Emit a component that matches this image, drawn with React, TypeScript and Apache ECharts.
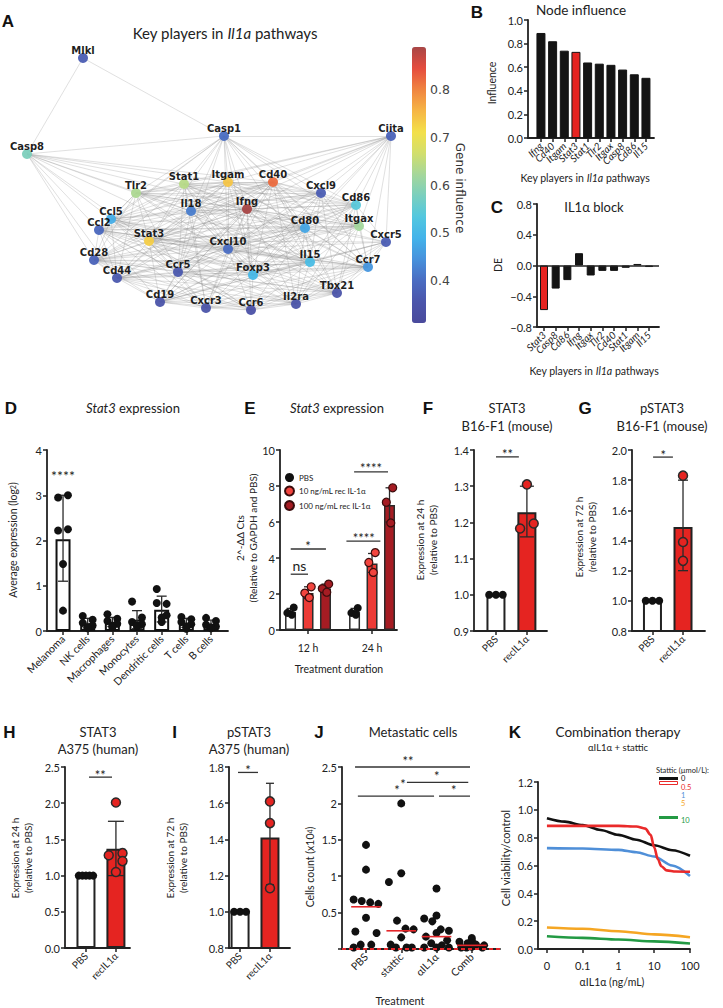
import React, { useEffect, useRef } from 'react';
import * as echarts from 'echarts';

const FONT = 'Lato, "Open Sans", "DejaVu Sans", sans-serif';
const NET_FONT = '"DejaVu Sans", sans-serif';
const LETTER_FONT = '"Liberation Sans", Arial, sans-serif';
const INK = '#222222';
const RED = '#e52421';

// ---------------- A: network ----------------
const NODES: [string, number, number, number][] = [
  ['Mlkl', 83, 58, 0.37],
  ['Casp1', 224, 136, 0.4],
  ['Ciita', 391, 136, 0.38],
  ['Casp8', 27, 154, 0.58],
  ['Tlr2', 136, 193, 0.63],
  ['Stat1', 184, 184, 0.64],
  ['Itgam', 228, 182, 0.74],
  ['Cd40', 273, 182, 0.82],
  ['Cxcl9', 321, 193, 0.37],
  ['Cd86', 356, 205, 0.54],
  ['Il18', 191, 211, 0.42],
  ['Ifng', 247, 209, 0.89],
  ['Ccl5', 111, 219, 0.48],
  ['Ccl2', 99, 230, 0.39],
  ['Cd80', 305, 228, 0.47],
  ['Itgax', 359, 226, 0.62],
  ['Stat3', 149, 241, 0.73],
  ['Cxcl10', 228, 249, 0.4],
  ['Cxcr5', 386, 242, 0.37],
  ['Cd28', 94, 260, 0.38],
  ['Il15', 310, 262, 0.51],
  ['Ccr7', 368, 267, 0.45],
  ['Ccr5', 178, 272, 0.36],
  ['Cd44', 117, 278, 0.36],
  ['Foxp3', 253, 275, 0.5],
  ['Tbx21', 337, 293, 0.35],
  ['Cd19', 160, 302, 0.35],
  ['Il2ra', 296, 304, 0.35],
  ['Cxcr3', 206, 308, 0.35],
  ['Ccr6', 251, 310, 0.34],
];

const EDGES = `
Mlkl: Casp8 Casp1
Casp1: Casp8 Ciita Tlr2 Stat1 Itgam Cd40 Cxcl9 Cd86 Il18 Ifng Cd80 Itgax Stat3 Cxcl10 Il15 Foxp3 Ccr5 Ccl5 Ccl2 Ccr7
Ciita: Cd40 Cxcl9 Cd86 Itgax Cxcr5 Ccr7 Il15 Cd80 Ifng Itgam Stat1 Tlr2 Foxp3 Cxcl10 Stat3 Il18
Casp8: Tlr2 Ccl5 Ccl2 Cd28 Stat3 Itgam Stat1 Cd44 Ifng Il18 Cxcl10 Cd40
Tlr2: Stat1 Itgam Cd40 Ifng Il18 Ccl5 Ccl2 Stat3 Cxcl10 Cd80 Cd86 Itgax Il15 Cd28 Cd44 Ccr5 Foxp3 Cxcl9
Stat1: Itgam Cd40 Cxcl9 Ifng Il18 Stat3 Cxcl10 Ccl2 Ccl5 Cd80 Cd86 Itgax Il15 Foxp3 Ccr5 Tbx21 Cxcr3 Cd28 Ccr7 Il2ra
Itgam: Cd40 Ifng Il18 Cd80 Cd86 Itgax Stat3 Cxcl10 Ccl2 Ccl5 Cd44 Cd19 Ccr7 Il15 Foxp3 Cd28 Cxcl9
Cd40: Ifng Cxcl9 Cd86 Cd80 Itgax Il18 Stat3 Cxcl10 Cd28 Il15 Foxp3 Ccr7 Cd44 Cd19 Il2ra Tbx21 Ccl2 Ccl5 Ccr5 Cxcr3
Cxcl9: Ifng Cd86 Cd80 Cxcl10 Cxcr3 Il15 Ccr7 Itgax Stat3 Foxp3 Tbx21 Ccr5 Il18 Ccl5
Cd86: Cd80 Itgax Ifng Cxcr5 Ccr7 Il15 Cd28 Foxp3 Stat3 Cxcl10 Il18 Cd44 Cd19 Tbx21 Il2ra
Il18: Ifng Stat3 Cxcl10 Ccl2 Ccl5 Cd80 Il15 Ccr5 Foxp3 Cd44 Cd28 Itgax Tbx21 Il2ra Cxcr3
Ifng: Cd80 Itgax Stat3 Cxcl10 Ccl5 Ccl2 Il15 Ccr5 Ccr7 Foxp3 Tbx21 Il2ra Cxcr3 Ccr6 Cd19 Cd44 Cd28 Cxcr5
Ccl5: Ccl2 Stat3 Cd28 Cd44 Ccr5 Cxcl10 Cd80 Il15 Foxp3 Cxcr3 Ccr6 Ccr7 Tbx21
Ccl2: Stat3 Cd28 Cd44 Ccr5 Cxcl10 Cd80 Il15 Foxp3 Cd19 Cxcr3 Ccr6 Ccr7 Il2ra Itgax
Cd80: Itgax Cxcr5 Il15 Ccr7 Cxcl10 Stat3 Foxp3 Tbx21 Il2ra Cd28 Cd44 Cd19 Ccr5 Ccr6
Itgax: Cxcr5 Ccr7 Il15 Foxp3 Stat3 Cxcl10 Tbx21 Cd19 Il2ra Cd44 Cd28
Stat3: Cxcl10 Cd28 Cd44 Ccr5 Foxp3 Il15 Cd19 Cxcr3 Ccr6 Il2ra Tbx21 Ccr7 Cxcr5
Cxcl10: Ccr5 Foxp3 Il15 Cxcr3 Ccr6 Il2ra Tbx21 Cd19 Cd44 Cd28 Ccr7 Cxcr5
Cxcr5: Ccr7 Il15 Tbx21 Foxp3 Cd19 Il2ra Ccr6
Cd28: Cd44 Ccr5 Cd19 Foxp3 Il15 Cxcr3 Ccr6 Il2ra Tbx21 Ccr7
Il15: Ccr7 Foxp3 Tbx21 Il2ra Ccr6 Cxcr3 Ccr5 Cd44 Cd19
Ccr7: Foxp3 Tbx21 Il2ra Ccr6 Cxcr3 Ccr5 Cd19 Cd44
Ccr5: Cd44 Foxp3 Cd19 Cxcr3 Ccr6 Il2ra Tbx21
Cd44: Cd19 Foxp3 Cxcr3 Ccr6 Il2ra Tbx21
Foxp3: Tbx21 Il2ra Ccr6 Cxcr3 Cd19
Tbx21: Il2ra Ccr6 Cxcr3 Cd19
Cd19: Cxcr3 Ccr6 Il2ra
Il2ra: Ccr6 Cxcr3
Cxcr3: Ccr6
`;

const CB_MIN = 0.31;
const CB_MAX = 0.89;
const CB_TICKS = [0.4, 0.5, 0.6, 0.7, 0.8];
const CMAP = ['#4a4a9c', '#4b55ab', '#4a6cc2', '#4791dc', '#43b3ea', '#52c7df', '#7acfbe', '#a5d79a', '#d2df6c', '#f3e04a', '#f6b545', '#f08440', '#e54c3e', '#a84646'];

// ---------------- B / C ----------------
const B_CATS = ['Ifng', 'Cd40', 'Itgam', 'Stat3', 'Stat1', 'Tlr2', 'Itgax', 'Casp8', 'Cd86', 'Il15'];
const B_VALS = [0.89, 0.82, 0.74, 0.73, 0.64, 0.63, 0.62, 0.58, 0.54, 0.51];
const C_CATS = ['Stat3', 'Casp8', 'Cd86', 'Ifng', 'Itgax', 'Tlr2', 'Cd40', 'Stat1', 'Itgam', 'Il15'];
const C_VALS = [-0.58, -0.3, -0.19, 0.16, -0.13, -0.07, -0.07, -0.03, 0.02, -0.02];
const HIGHLIGHT = 'Stat3';

// ---------------- D ----------------
const D_CATS = ['Melanoma', 'NK cells', 'Macrophages', 'Monocytes', 'Dendritic cells', 'T cells', 'B cells'];
const D_MEANS = [2.03, 0.17, 0.2, 0.25, 0.47, 0.18, 0.15];
const D_LO = [1.1, 0.07, 0.1, 0.05, 0.2, 0.08, 0.06];
const D_HI = [3.0, 0.28, 0.3, 0.45, 0.77, 0.28, 0.24];
const D_PTS = [
  [2.95, 3.0, 2.22, 2.25, 1.48, 0.45],
  [0.33, 0.25, 0.18, 0.12, 0.08, 0.06],
  [0.37, 0.27, 0.22, 0.16, 0.12, 0.08],
  [0.65, 0.3, 0.2, 0.15, 0.1, 0.12],
  [0.93, 0.6, 0.62, 0.35, 0.3, 0.2],
  [0.31, 0.26, 0.2, 0.15, 0.1, 0.05],
  [0.29, 0.22, 0.14, 0.1, 0.06, 0.08],
];
const D_STARS: [number, number, number, string, number][] = [[0, 0, 3.5, '****', 0]];

// ---------------- E ----------------
const E_GROUPS = ['12 h', '24 h'];
const E_SERIES = ['PBS', '10 ng/mL rec IL-1α', '100 ng/mL rec IL-1α'];
const E_MEANS = [[1.0, 1.0], [2.05, 3.7], [2.3, 6.95]];
const E_LO = [[0.82, 0.82], [1.75, 3.2], [2.1, 6.0]];
const E_HI = [[1.2, 1.2], [2.4, 4.25], [2.55, 7.9]];
const E_PTS = [
  [[1.25, 0.95, 0.85], [1.22, 0.95, 0.85]],
  [[2.4, 2.05, 1.8], [4.3, 3.75, 3.2]],
  [[2.55, 2.3, 2.1], [7.9, 7.1, 5.95]],
];
const E_BR: [number, number, number, string, number][] = [
  [-0.27, 0, 3.1, 'ns', -0.135],
  [-0.27, 0.28, 4.5, '*', 0],
  [0.6, 1.13, 4.94, '****', 0.87],
  [0.72, 1.25, 8.78, '****', 0.985],
];

// ---------------- F G H I ----------------
const FI_CATS = ['PBS', 'recIL1α'];
const F_MEANS = [1.0, 1.228];
const F_LO = [1.0, 1.16];
const F_HI = [1.0, 1.3];
const F_PTS = [[1, 1, 1], [1.305, 1.197, 1.183]];
const F_BR: [number, number, number, string, number][] = [[0, 0.74, 1.381, '**', 0.37]];

const G_MEANS = [1.0, 1.49];
const G_LO = [1.0, 1.2];
const G_HI = [1.0, 1.8];
const G_PTS = [[1, 1, 1], [1.83, 1.39, 1.265]];
const G_BR: [number, number, number, string, number][] = [[0.02, 0.67, 1.953, '*', 0.35]];

const H_MEANS = [1.0, 1.37];
const H_LO = [1.0, 1.0];
const H_HI = [1.0, 1.75];
const H_PTS = [[1, 1, 1, 1, 1], [2.01, 1.31, 1.28, 1.2, 1.05]];
const H_BR: [number, number, number, string, number][] = [[0.1, 0.87, 2.36, '**', 0.48]];

const I_MEANS = [1.0, 1.41];
const I_LO = [1.0, 1.15];
const I_HI = [1.0, 1.71];
const I_PTS = [[1, 1, 1], [1.61, 1.49, 1.13]];
const I_BR: [number, number, number, string, number][] = [[-0.07, 0.6, 1.77, '*', 0.27]];

// ---------------- J ----------------
const J_CATS = ['PBS', 'stattic', 'αIL1α', 'Comb'];
const J_PTS = [
  [1.43, 1.09, 0.68, 0.66, 0.64, 0.62, 0.43, 0.24, 0.22, 0.06, 0.06, 0.02],
  [2.0, 1.04, 0.92, 0.39, 0.28, 0.27, 0.16, 0.06, 0.02, 0.02, 0.02],
  [0.83, 0.46, 0.42, 0.38, 0.27, 0.25, 0.22, 0.17, 0.12, 0.08, 0.05, 0.02, 0.02, 0.02],
  [0.15, 0.12, 0.1, 0.08, 0.06, 0.05, 0.03, 0.02, 0.02, 0.02],
];
const J_MED = [0.58, 0.25, 0.17, 0.05];
const J_BR: [number, number, number, string, number][] = [
  [-0.31, 2.95, 2.5, '**', 1.19],
  [1.16, 2.9, 2.29, '*', 2.01],
  [-0.23, 1.93, 2.1, '*', 0.88],
  [2.07, 2.95, 2.1, '*', 2.49],
  [1.05, 1.05, 2.18, '*', 1.05],
];

// ---------------- K ----------------
const K_X_TICKS = ['0', '0.1', '1', '10', '100'];
const K_DOSES = ['0', '0.5', '1', '5', '10'];
const K_COLORS = ['#111111', '#ea2a2a', '#4f8fd8', '#f5a623', '#239a44'];
const K_CURVES: [number, number][][] = [
  [[0, 0.94], [0.5, 0.915], [1, 0.89], [1.5, 0.855], [2, 0.82], [2.5, 0.785], [3, 0.745], [3.5, 0.71], [4, 0.67]],
  [[0, 0.885], [1, 0.885], [2, 0.885], [2.5, 0.88], [2.75, 0.865], [2.9, 0.82], [3.0, 0.73], [3.1, 0.645], [3.2, 0.595], [3.35, 0.565], [3.6, 0.557], [4, 0.555]],
  [[0, 0.725], [1, 0.722], [2, 0.712], [2.5, 0.695], [3, 0.665], [3.5, 0.6], [4, 0.525]],
  [[0, 0.155], [1, 0.145], [2, 0.128], [3, 0.105], [4, 0.085]],
  [[0, 0.092], [1, 0.08], [2, 0.068], [3, 0.055], [4, 0.04]],
];

// jitter / offset styles (horizontal placement of dots, in category units)
const D_JIT = [-0.2, 0.2, -0.2, 0.2, 0, 0];
const E_OFF = [-0.273, 0, 0.273];
const E_JIT = [0.05, -0.05, 0.02];
const F_JIT = [[-0.22, 0, 0.22], [0, 0.22, -0.22]];
const G_JIT = [[-0.22, 0, 0.22], [0, 0, 0]];
const H_JIT = [[-0.24, -0.12, 0, 0.12, 0.24], [0, 0.22, -0.24, 0.22, 0]];
const I_JIT = [[-0.2, 0, 0.2], [0, 0, 0]];
const J_JIT = [0, 0, -0.35, -0.12, 0.12, 0.35, 0, -0.3, 0.3, -0.15, 0.15, -0.35, 0.35, 0];

const f1 = (v: number) => v.toFixed(1);

function buildOption() {
  const grid: any[] = [];
  const xAxis: any[] = [];
  const yAxis: any[] = [];
  const series: any[] = [];
  const graphic: any[] = [];

  const axisLine = { show: true, onZero: false, lineStyle: { color: INK, width: 1.8 } };
  const tick = (vals?: number[]) => ({
    show: true, length: 4, lineStyle: { color: INK, width: 1.5 },
    ...(vals ? { customValues: vals } : {}),
  });

  function panel(c: any) {
    const gi = grid.length;
    grid.push({ left: c.left, top: c.top, width: c.width, height: c.height });
    const idx: number[] = c.ticks ?? c.labels.map((_: any, i: number) => i);
    const labelStyle = {
      rotate: c.rotate ?? 45, fontSize: c.labelSize ?? 10,
      fontStyle: c.italic ? 'italic' : 'normal', fontFamily: FONT, color: INK,
      margin: c.labelMargin ?? 6,
    };
    xAxis.push({
      type: 'value', gridIndex: gi, min: c.xMin, max: c.xMax,
      axisLine, axisTick: tick(idx), splitLine: { show: false },
      axisLabel: c.overlay
        ? { show: false }
        : { ...labelStyle, customValues: idx, formatter: (v: number) => c.labels[Math.round(v)] ?? '', showMinLabel: true, showMaxLabel: true, hideOverlap: false },
    });
    yAxis.push({
      type: 'value', gridIndex: gi, min: c.yMin, max: c.yMax, interval: c.yInterval,
      axisLine, axisTick: tick(), splitLine: { show: false },
      axisLabel: { fontSize: 11, fontFamily: FONT, color: INK, margin: 5, formatter: c.yFmt, showMinLabel: true, showMaxLabel: true },
    });
    const out = { xAxisIndex: xAxis.length - 1, yAxisIndex: yAxis.length - 1 };
    if (c.overlay) {
      // category axis aligned with the value positions, used only to lay out every label
      const n = c.labels.length;
      const unit = c.width / (c.xMax - c.xMin);
      const og = grid.length;
      grid.push({ left: c.left + (-0.5 - c.xMin) * unit, top: c.top, width: n * unit, height: c.height });
      xAxis.push({
        type: 'category', gridIndex: og, data: c.labels, boundaryGap: true,
        axisLine: { show: false }, axisTick: { show: false }, splitLine: { show: false },
        axisLabel: { ...labelStyle, interval: 0 },
      });
      yAxis.push({ type: 'value', gridIndex: og, show: false, min: 0, max: 1 });
    }
    return out;
  }

  function errs(ax: any, xs: number[], lo: number[], hi: number[], cap: number) {
    series.push({
      type: 'custom', ...ax, silent: true, clip: false, z: 3,
      encode: { x: 0, y: [1, 2] },
      data: xs.map((x, i) => [x, lo[i], hi[i]]),
      renderItem: (_p: any, api: any) => {
        const x = api.value(0), l = api.value(1), h = api.value(2);
        if (!(h > l)) return { type: 'group', children: [] };
        const a = api.coord([x, l]);
        const b = api.coord([x, h]);
        const st = { stroke: '#2a2a2a', lineWidth: 1.3 };
        return {
          type: 'group',
          children: [
            { type: 'line', shape: { x1: a[0], y1: a[1], x2: b[0], y2: b[1] }, style: st },
            { type: 'line', shape: { x1: a[0] - cap, y1: a[1], x2: a[0] + cap, y2: a[1] }, style: st },
            { type: 'line', shape: { x1: b[0] - cap, y1: b[1], x2: b[0] + cap, y2: b[1] }, style: st },
          ],
        };
      },
    });
  }

  function brackets(ax: any, items: [number, number, number, string, number][], starDy: number, starSize = 13) {
    series.push({
      type: 'custom', ...ax, silent: true, clip: false, z: 6,
      encode: { x: 0, y: 2 },
      data: items.map((b) => [b[0], b[1], b[2], b[4]]),
      renderItem: (p: any, api: any) => {
        const b = items[p.dataIndex];
        const p1 = api.coord([b[0], b[2]]);
        const p2 = api.coord([b[1], b[2]]);
        const pl = api.coord([b[4], b[2]]);
        const isNs = b[3] === 'ns';
        const children: any[] = [];
        if (b[1] > b[0]) {
          children.push({ type: 'line', shape: { x1: p1[0], y1: p1[1], x2: p2[0], y2: p2[1] }, style: { stroke: '#333', lineWidth: 1.3 } });
        }
        children.push({
          type: 'text', x: pl[0], y: pl[1] + (isNs ? -8.5 : starDy),
          style: { text: b[3], fill: '#222', fontSize: isNs ? 14 : starSize, fontFamily: FONT, align: 'center', verticalAlign: 'middle' },
        });
        return { type: 'group', children };
      },
    });
  }

  // ===== A: network =====
  const seen = new Set<string>();
  const links: any[] = [];
  EDGES.trim().split('\n').forEach((line) => {
    const [src, rest] = line.split(':');
    const s = src.trim();
    rest.trim().split(/\s+/).forEach((t) => {
      const key = [s, t].sort().join('|');
      if (!seen.has(key)) { seen.add(key); links.push({ source: s, target: t }); }
    });
  });
  series.push({
    type: 'graph', layout: 'none', left: 27, top: 58, width: 364, height: 252, roam: false, silent: true,
    symbol: 'circle', symbolSize: 10,
    data: NODES.map(([name, x, y, v]) => ({ name, x, y, value: v })),
    links,
    lineStyle: { color: '#8c8c8c', width: 0.6, opacity: 0.45, curveness: 0 },
    itemStyle: { opacity: 0.95 },
    label: { show: true, position: 'inside', offset: [0, -7.5], fontSize: 10, fontWeight: 'bold', fontFamily: NET_FONT, color: '#111' },
    emphasis: { disabled: true },
  });

  // colour bar axis
  const cbg = grid.length;
  grid.push({ left: 412, top: 47, width: 14, height: 276 });
  xAxis.push({ type: 'value', gridIndex: cbg, show: false, min: 0, max: 1 });
  yAxis.push({
    type: 'value', gridIndex: cbg, position: 'right', min: CB_MIN, max: CB_MAX,
    axisLine: { show: false },
    axisTick: { show: true, customValues: CB_TICKS, length: 3, lineStyle: { color: '#555' } },
    axisLabel: { customValues: CB_TICKS, formatter: f1, fontSize: 12.5, fontFamily: NET_FONT, color: '#444', margin: 4 },
    splitLine: { show: false },
  });

  // ===== B =====
  const b = panel({ left: 528, top: 20, width: 126, height: 118, xMin: -1.11, xMax: 9.69, labels: B_CATS, italic: true, overlay: true, yMin: 0, yMax: 1, yInterval: 0.2, yFmt: f1 });
  series.push({
    type: 'bar', ...b, barWidth: 9, silent: true,
    data: B_VALS.map((v, i) => ({ value: [i, v], itemStyle: { color: B_CATS[i] === HIGHLIGHT ? RED : '#141414', borderColor: '#141414', borderWidth: 1 } })),
  });

  // ===== C =====
  const c = panel({
    left: 537, top: 204, width: 122, height: 123, xMin: -0.6, xMax: 9.85, labels: C_CATS, italic: true, overlay: true,
    yMin: -0.8, yMax: 0.8, yInterval: 0.4,
    yFmt: (v: number) => (v < -1e-9 ? '−' + Math.abs(v).toFixed(1) : Math.abs(v).toFixed(1)),
  });
  series.push({
    type: 'bar', ...c, barWidth: 8, silent: true,
    data: C_VALS.map((v, i) => ({ value: [i, v], itemStyle: { color: C_CATS[i] === HIGHLIGHT ? RED : '#141414', borderColor: '#141414', borderWidth: 1 } })),
    markLine: { silent: true, symbol: 'none', label: { show: false }, lineStyle: { color: INK, width: 1.6, type: 'solid' }, data: [{ yAxis: 0 }] },
  });

  // ===== D =====
  const d = panel({ left: 47, top: 450, width: 181, height: 181, xMin: -0.65, xMax: 6.69, labels: D_CATS, labelSize: 10.5, yMin: 0, yMax: 4, yInterval: 1, yFmt: (v: number) => String(v) });
  series.push({
    type: 'bar', ...d, barWidth: 15, silent: true,
    data: D_MEANS.map((v, i) => ({ value: [i, v] })),
    itemStyle: { color: '#ffffff', borderColor: '#111', borderWidth: 2 },
  });
  errs(d, D_MEANS.map((_, i) => i), D_LO, D_HI, 5);
  series.push({
    type: 'scatter', ...d, symbolSize: 8, silent: true, z: 4,
    itemStyle: { color: '#111', opacity: 1 },
    data: D_PTS.flatMap((arr, i) => arr.map((v, k) => [i + D_JIT[k % D_JIT.length], v])),
  });
  brackets(d, D_STARS, 2.5, 14);

  // ===== E =====
  const e = panel({ left: 280, top: 450, width: 117, height: 180, xMin: -0.4375, xMax: 1.39, labels: E_GROUPS, rotate: 0, labelMargin: 12, labelSize: 10.5, yMin: 0, yMax: 10, yInterval: 2, yFmt: (v: number) => String(v) });
  const E_BAR = ['#ffffff', '#ec3b36', '#a51c23'];
  const E_PT = ['#111111', '#f2453f', '#a51c23'];
  const eBars: any[] = [];
  const eX: number[] = [], eLo: number[] = [], eHi: number[] = [];
  E_SERIES.forEach((_, s) => {
    E_GROUPS.forEach((__, g) => {
      eBars.push({ value: [g + E_OFF[s], E_MEANS[s][g]], itemStyle: { color: E_BAR[s], borderColor: '#2b2b2b', borderWidth: 1.5 } });
      eX.push(g + E_OFF[s]); eLo.push(E_LO[s][g]); eHi.push(E_HI[s][g]);
    });
  });
  series.push({ type: 'bar', ...e, barWidth: 11, silent: true, data: eBars });
  errs(e, eX, eLo, eHi, 4);
  E_SERIES.forEach((name, s) => {
    series.push({
      type: 'scatter', ...e, name, symbolSize: 8, silent: true, z: 4,
      itemStyle: { color: E_PT[s], borderColor: s === 0 ? '#111' : '#3a0c0c', borderWidth: s === 0 ? 0 : 1.2, opacity: 1 },
      data: E_GROUPS.flatMap((_, g) => E_PTS[s][g].map((v, k) => [g + E_OFF[s] + E_JIT[k], v])),
    });
  });
  brackets(e, E_BR, -3.5);

  // ===== F G H I =====
  function twoBar(cfg: any, means: number[], lo: number[], hi: number[], pts: number[][], jit: number[][], br: any[], cap: number) {
    const ax = panel({ ...cfg, labels: FI_CATS });
    series.push({
      type: 'bar', ...ax, barWidth: 19, silent: true,
      data: means.map((v, i) => ({ value: [i, v], itemStyle: { color: i === 0 ? '#ffffff' : RED, borderColor: '#222', borderWidth: 2 } })),
    });
    errs(ax, [0, 1], lo, hi, cap);
    pts.forEach((arr, i) => {
      series.push({
        type: 'scatter', ...ax, symbolSize: i === 0 ? 8 : 9, silent: true, z: 4,
        itemStyle: i === 0 ? { color: '#111', opacity: 1 } : { color: RED, borderColor: '#2a2a2a', borderWidth: 1.5, opacity: 1 },
        data: arr.map((v, k) => [i + jit[i][k], v]),
      });
    });
    brackets(ax, br, -2.5);
  }
  twoBar({ left: 474, top: 450, width: 73, height: 181, xMin: -0.71, xMax: 1.65, yMin: 0.9, yMax: 1.4, yInterval: 0.1, yFmt: f1 }, F_MEANS, F_LO, F_HI, F_PTS, F_JIT, F_BR, 7);
  twoBar({ left: 632, top: 450, width: 73, height: 181, xMin: -0.67, xMax: 1.72, yMin: 0.8, yMax: 2.0, yInterval: 0.2, yFmt: f1 }, G_MEANS, G_LO, G_HI, G_PTS, G_JIT, G_BR, 5);
  twoBar({ left: 65, top: 767, width: 65, height: 181, xMin: -0.7, xMax: 1.47, yMin: 0, yMax: 2.5, yInterval: 0.5, yFmt: f1 }, H_MEANS, H_LO, H_HI, H_PTS, H_JIT, H_BR, 8);
  twoBar({ left: 229, top: 767, width: 61, height: 181, xMin: -0.37, xMax: 1.67, yMin: 0.8, yMax: 1.8, yInterval: 0.2, yFmt: f1 }, I_MEANS, I_LO, I_HI, I_PTS, I_JIT, I_BR, 4);

  // ===== J =====
  const j = panel({ left: 342, top: 767, width: 158, height: 182, xMin: -0.68, xMax: 3.8, labels: J_CATS, labelSize: 10.5, yMin: 0, yMax: 2.5, yInterval: 0.5, yFmt: (v: number) => (v === 0 ? '' : String(v)) });
  series.push({
    type: 'scatter', ...j, symbolSize: 8, silent: true, z: 4,
    itemStyle: { color: '#111', opacity: 1 },
    data: J_PTS.flatMap((arr, i) => arr.map((v, k) => [i + J_JIT[k % J_JIT.length], v])),
    markLine: { silent: true, symbol: 'none', label: { show: false }, lineStyle: { color: '#e5262a', width: 2, type: [4, 3] }, data: [{ yAxis: 0 }], z: 7 },
  });
  series.push({
    type: 'custom', ...j, silent: true, clip: false, z: 5,
    encode: { x: 0, y: 1 },
    data: J_MED.map((m, i) => [i, m]),
    renderItem: (_p: any, api: any) => {
      const x = api.value(0), y = api.value(1);
      const a = api.coord([x - 0.42, y]);
      const bb = api.coord([x + 0.42, y]);
      return { type: 'line', shape: { x1: a[0], y1: a[1], x2: bb[0], y2: bb[1] }, style: { stroke: '#e5262a', lineWidth: 1.6 } };
    },
  });
  brackets(j, J_BR, -6);

  // ===== K =====
  const k = panel({ left: 538, top: 782, width: 152, height: 167, xMin: -0.25, xMax: 4, ticks: [0, 1, 2, 3, 4], labels: K_X_TICKS, rotate: 0, labelMargin: 11, labelSize: 11, yMin: 0, yMax: 1.2, yInterval: 0.2, yFmt: f1 });
  K_CURVES.forEach((cv, i) => {
    series.push({
      type: 'line', ...k, name: 'Stattic ' + K_DOSES[i], data: cv, smooth: 0.3, smoothMonotone: 'x',
      showSymbol: false, symbol: 'none', silent: true, lineStyle: { color: K_COLORS[i], width: 2.6 }, z: 3 + (i === 1 ? 1 : 0),
    });
  });

  // ===== texts =====
  const T = (text: string, x: number, y: number, size: number, o: any = {}) => {
    const base: any = { fontSize: size, fontFamily: o.family ?? FONT, fill: o.fill ?? '#222', fontWeight: o.weight ?? 'normal', fontStyle: o.italic ? 'italic' : 'normal' };
    const rich = o.rich ? Object.fromEntries(Object.entries(o.rich).map(([kk, v]: any) => [kk, { ...base, ...v }])) : undefined;
    return {
      type: 'text', x, y, rotation: o.rot ?? 0, silent: true, z: 10,
      style: { text, ...base, align: o.align ?? 'center', verticalAlign: o.va ?? 'middle', lineHeight: o.lh, rich },
    };
  };
  const ital = { i: { fontStyle: 'italic' } };
  const UP = Math.PI / 2;

  // panel letters
  ([['A', 8, 21], ['B', 477, 12], ['C', 497, 207], ['D', 11, 408], ['E', 250, 408], ['F', 428, 408], ['G', 585, 408], ['H', 9.5, 732], ['I', 174.5, 732], ['J', 319, 732], ['K', 515, 732]] as [string, number, number][])
    .forEach(([t, x, y]) => graphic.push(T(t, x, y, 17, { weight: 'bold', family: LETTER_FONT, fill: '#111' })));

  // titles
  graphic.push(T('Key players in {i|Il1a} pathways', 225, 33, 15, { rich: ital }));
  graphic.push(T('Node influence', 581, 10, 13.5));
  graphic.push(T('IL1α block', 594, 207, 13));
  graphic.push(T('{i|Stat3} expression', 133, 408, 13, { rich: ital }));
  graphic.push(T('{i|Stat3} expression', 337, 408, 13, { rich: ital }));
  graphic.push(T('STAT3\nB16-F1 (mouse)', 507, 417, 13, { lh: 18 }));
  graphic.push(T('pSTAT3\nB16-F1 (mouse)', 662, 417, 13, { lh: 18 }));
  graphic.push(T('STAT3\nA375 (human)', 98, 740.5, 13, { lh: 17 }));
  graphic.push(T('pSTAT3\nA375 (human)', 249, 740.5, 13, { lh: 17 }));
  graphic.push(T('Metastatic cells', 413, 732, 13));
  graphic.push(T('Combination therapy', 618, 732, 13.5));
  graphic.push(T('αIL1α + stattic', 618, 747, 9.5));

  // axis titles
  graphic.push(T('Gene influence', 460, 188, 12, { rot: -UP, family: NET_FONT, fill: '#333' }));
  graphic.push(T('Influence', 492, 83, 10.5, { rot: UP }));
  graphic.push(T('Key players in {i|Il1a} pathways', 585, 178, 10.5, { rich: ital }));
  graphic.push(T('DE', 498, 265, 10.5, { rot: UP }));
  graphic.push(T('Key players in {i|Il1a} pathways', 594, 371, 10.5, { rich: ital }));
  graphic.push(T('Average expression (log{s|2})', 13, 540, 10.5, { rot: UP, rich: { s: { fontSize: 7 } } }));
  graphic.push(T('2^-ΔΔ Cts\n(Relative to GAPDH and PBS)', 246.5, 538, 10, { rot: UP, lh: 13 }));
  graphic.push(T('Treatment duration', 339, 669, 10.5));
  graphic.push(T('Expression at 24 h\n(relative to PBS)', 426.5, 540, 10, { rot: UP, lh: 13 }));
  graphic.push(T('Expression at 72 h\n(relative to PBS)', 585, 537, 10, { rot: UP, lh: 13 }));
  graphic.push(T('Expression at 24 h\n(relative to PBS)', 21.5, 858, 10, { rot: UP, lh: 13 }));
  graphic.push(T('Expression at 72 h\n(relative to PBS)', 176.5, 858, 10, { rot: UP, lh: 13 }));
  graphic.push(T('Cells count (x10{s|4})', 310, 867, 10.5, { rot: UP, rich: { s: { fontSize: 7 } } }));
  graphic.push(T('Treatment', 400, 1000, 11));
  graphic.push(T('Cell viability/control', 505, 858, 11, { rot: UP }));
  graphic.push(T('αIL1α (ng/mL)', 612, 982, 10.5));

  // K legend
  graphic.push(T('Stattic (µmol/L):', 656, 770, 7.5, { align: 'left', lh: 8 }));
  const K_LEG_Y = [778.5, 787, 795, 803, 820];
  K_DOSES.forEach((dose, i) => graphic.push(T(dose, 681, K_LEG_Y[i], 7.5, { align: 'left', fill: K_COLORS[i], lh: 7.5 })));
  graphic.push({ type: 'rect', shape: { x: 659, y: 777, width: 19, height: 3 }, style: { fill: K_COLORS[0] }, silent: true, z: 10 });
  graphic.push({ type: 'rect', shape: { x: 659.5, y: 781.5, width: 18, height: 3 }, style: { fill: 'none', stroke: K_COLORS[1], lineWidth: 1 }, silent: true, z: 10 });
  graphic.push({ type: 'rect', shape: { x: 659, y: 816, width: 19, height: 3 }, style: { fill: K_COLORS[4] }, silent: true, z: 10 });

  return {
    animation: false,
    backgroundColor: '#ffffff',
    textStyle: { fontFamily: FONT },
    grid, xAxis, yAxis, series,
    visualMap: {
      type: 'continuous', seriesIndex: 0, min: CB_MIN, max: CB_MAX, inRange: { color: CMAP },
      left: 412, top: 47, itemWidth: 14, itemHeight: 276, calculable: false, padding: 0, hoverLink: false,
    },
    legend: [{
      data: E_SERIES, left: 284, top: 473, orient: 'vertical', itemWidth: 9, itemHeight: 9, itemGap: 3.5,
      icon: 'circle', selectedMode: false, padding: 0,
      textStyle: { fontSize: 8, fontFamily: FONT, color: '#222' },
    }],
    graphic: { elements: graphic },
  };
}

export default function App() {
  const ref = useRef<HTMLDivElement>(null);
  useEffect(() => {
    if (!ref.current) return;
    const chart = echarts.init(ref.current, undefined, { renderer: 'svg', width: 723, height: 1008 });
    chart.setOption(buildOption() as any);
    return () => chart.dispose();
  }, []);
  return <div ref={ref} style={{ position: 'fixed', left: 0, top: 0, width: 723, height: 1008, background: '#fff' }} />;
}
